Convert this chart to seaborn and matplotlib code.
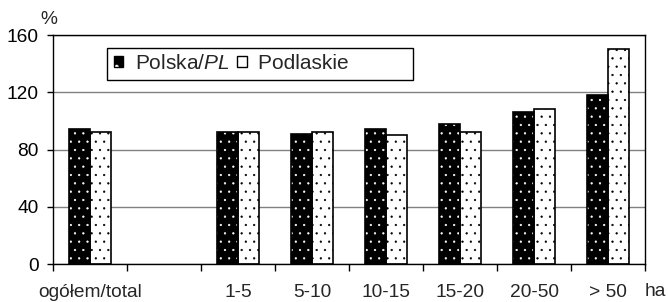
import numpy as np
import pandas as pd
import seaborn as sns
import matplotlib.pyplot as plt
from matplotlib.patches import Patch, Rectangle

# data (% values)
categories = ["ogółem/total", " ", "1-5", "5-10", "10-15", "15-20", "20-50", "> 50"]
groups = ["ogółem/total", "1-5", "5-10", "10-15", "15-20", "20-50", "> 50"]
polska = [94, 92.5, 91, 94, 98, 106, 118]
podlaskie = [92.5, 92.5, 92.5, 90, 92.5, 108, 150]
series = ["Polska/$\\mathit{PL}$", "Podlaskie"]
yticks = [0, 40, 80, 120, 160]

df = pd.DataFrame({
    "grupa": groups * 2,
    "wartosc": polska + podlaskie,
    "seria": [series[0]] * len(groups) + [series[1]] * len(groups),
})

sns.set_style("white")
plt.rcParams["font.family"] = ["Liberation Sans", "DejaVu Sans"]
plt.rcParams["mathtext.fontset"] = "custom"
plt.rcParams["mathtext.rm"] = "Liberation Sans"
plt.rcParams["mathtext.it"] = "Liberation Sans:italic"
plt.rcParams["hatch.linewidth"] = 0.4

fig = plt.figure(figsize=(6.68, 3.02), dpi=100)
ax = fig.add_axes([0.0793, 0.1258, 0.8863, 0.7583])

sns.barplot(data=df, x="grupa", y="wartosc", hue="seria", order=categories,
            hue_order=series, palette=["black", "white"], width=0.57,
            saturation=1, legend=False, ax=ax)

# dotted fill: white dots on black bars, black dots on white bars, black outline
for p in list(ax.patches):
    dark = p.get_facecolor()[0] < 0.5
    p.set_edgecolor("white" if dark else "black")
    p.set_hatch("..")
    p.set_linewidth(0)
    ax.add_patch(Rectangle((p.get_x(), p.get_y()), p.get_width(), p.get_height(),
                           fill=False, edgecolor="black", lw=1.2,
                           zorder=p.get_zorder() + 0.1))

ax.set_ylim(0, 160)
ax.set_xlim(-0.5, len(categories) - 0.5)
ax.set_yticks(yticks)
ax.set_xlabel("")
ax.set_ylabel("")
ax.yaxis.grid(True, color="#808080", lw=1)
ax.set_axisbelow(True)
for s in ax.spines.values():
    s.set_color("black")
    s.set_linewidth(1)

ax.tick_params(axis="y", direction="out", length=4, width=1, pad=6.5,
               labelsize=13.8, left=True, colors="black")
ax.tick_params(axis="x", which="major", length=0, pad=14.5, labelsize=13.8)
ax.set_xticks(np.arange(-0.5, len(categories), 1), minor=True)
ax.tick_params(axis="x", which="minor", direction="out", length=5, width=1,
               bottom=True, color="black")

fig.text(49 / 668, 1 - 20 / 302, "%", ha="center", va="center", fontsize=13.8)
fig.text(645 / 668, 1 - 291 / 302, "ha", ha="left", va="center", fontsize=13.8)

handles = [
    (Patch(facecolor="black", edgecolor="white", hatch=".", lw=0),
     Patch(fill=False, edgecolor="black", lw=1)),
    (Patch(facecolor="white", edgecolor="black", hatch=".", lw=0),
     Patch(fill=False, edgecolor="black", lw=1)),
]
leg = ax.legend(handles, [series[0], series[1] + " " * 10], ncol=2,
                loc="upper left", bbox_to_anchor=(0.092, 0.943), borderaxespad=0,
                frameon=True, fancybox=False, edgecolor="black", framealpha=1,
                fontsize=15, handlelength=0.45, handleheight=0.45,
                handletextpad=0.55, columnspacing=0.4, borderpad=0.3)
leg.get_frame().set_linewidth(1)

fig.savefig("out.png", dpi=100, facecolor="white")
plt.close(fig)
